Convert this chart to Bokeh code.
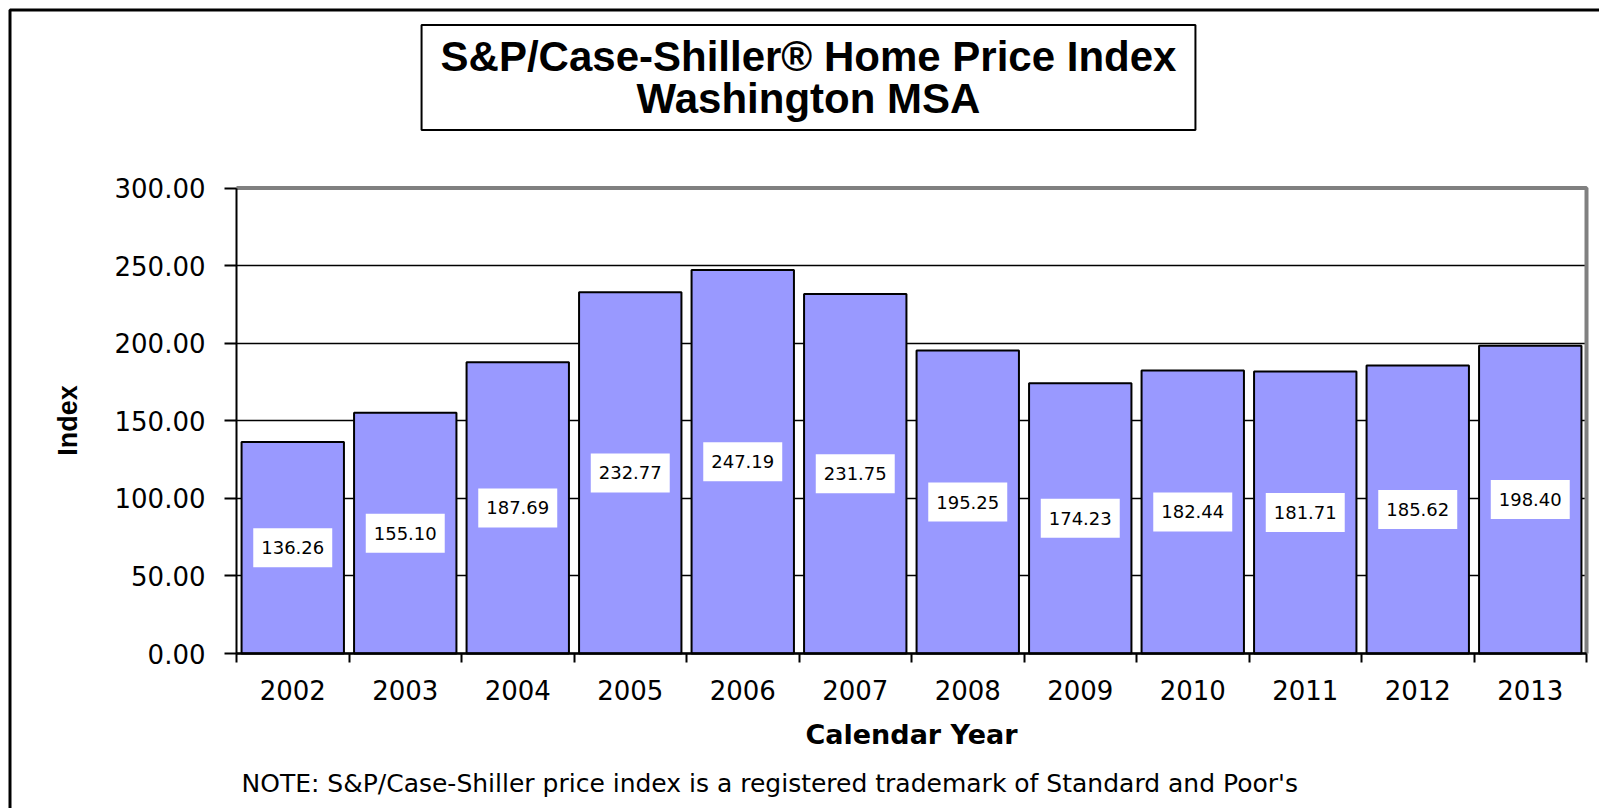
from bokeh.plotting import figure
from bokeh.models import (ColumnDataSource, Range1d, FixedTicker, NumeralTickFormatter,
                          Label, BoxAnnotation)
from bokeh.embed import file_html
from bokeh.resources import INLINE
from bokeh.core.properties import value

# ---- data ----
years = ["2002", "2003", "2004", "2005", "2006", "2007",
         "2008", "2009", "2010", "2011", "2012", "2013"]
index_values = [136.26, 155.10, 187.69, 232.77, 247.19, 231.75,
                195.25, 174.23, 182.44, 181.71, 185.62, 198.40]
y_ticks = [0, 50, 100, 150, 200, 250, 300]
title_text = "S&P/Case-Shiller\u00ae Home Price Index\nWashington MSA"
x_title = "Calendar Year"
y_title = "Index"
note_text = "NOTE:  S&P/Case-Shiller price index is a registered trademark of Standard and Poor's"

# ---- layout (pixels on the page) ----
W, H = 1599, 808
PLOT_LEFT, PLOT_RIGHT = 236, 1586      # pixel columns of x = 0 and x = n
PLOT_TOP, PLOT_BOTTOM = 187.5, 653     # pixel rows of y = max and y = 0

n = len(years)
y_max = y_ticks[-1]
x_centers = [i + 0.5 for i in range(n)]

# the frame fills the whole canvas; axes sit at fixed locations inside it
xs = (PLOT_RIGHT - PLOT_LEFT) / n
ys = (PLOT_BOTTOM - PLOT_TOP) / y_max
x_range = Range1d(-PLOT_LEFT / xs, n + (W - PLOT_RIGHT) / xs)
y_range = Range1d(-(H - PLOT_BOTTOM) / ys, y_max + PLOT_TOP / ys)

source = ColumnDataSource(dict(
    x=x_centers,
    top=index_values,
    mid=[v / 2 for v in index_values],
    label=[f"{v:.2f}" for v in index_values],
))

p = figure(width=W, height=H, output_backend="svg", toolbar_location=None,
           x_range=x_range, y_range=y_range, title=None,
           min_border=0, min_border_left=0, min_border_right=0,
           min_border_top=0, min_border_bottom=0)
p.background_fill_color = "white"
p.border_fill_color = "white"
p.outline_line_color = None

# grid
p.xgrid.visible = False
yg = p.ygrid[0]
yg.grid_line_color = "black"
yg.grid_line_width = 1.5
if "cross_bounds" in yg.properties():
    yg.cross_bounds = (0, n)
else:
    yg.visible = False
    p.segment(x0=[0] * (len(y_ticks) - 1), x1=[n] * (len(y_ticks) - 1),
              y0=y_ticks[1:], y1=y_ticks[1:], line_color="black",
              line_width=1.5, level="underlay")

# bars
p.vbar(x="x", top="top", bottom=0, width=0.91, source=source,
       fill_color="#9999FF", line_color="black", line_width=2)

# plot-area border (top and right, grey)
p.line(x=[0, n, n], y=[y_max, y_max, 0], line_color="#808080", line_width=4)

# value labels
p.text(x="x", y="mid", text="label", source=source,
       text_align="center", text_baseline="middle",
       text_font=value("DejaVu Sans"), text_font_size="18px", text_color="black",
       background_fill_color="white",
       padding=dict(left=8, right=8, top=13, bottom=13))

# y axis
yax = p.yaxis[0]
yax.fixed_location = 0
yax.bounds = (y_ticks[0], y_max)
yax.ticker = FixedTicker(ticks=y_ticks)
yax.formatter = NumeralTickFormatter(format="0.00")
yax.axis_line_color = "black"
yax.axis_line_width = 2
yax.major_tick_out = 12
yax.major_tick_in = 0
yax.major_tick_line_width = 2
yax.minor_tick_line_color = None
yax.major_label_standoff = 19
yax.major_label_text_font = "DejaVu Sans"
yax.major_label_text_font_size = "26px"
yax.major_label_text_color = "black"

# x axis
xax = p.xaxis[0]
xax.fixed_location = 0
xax.bounds = (0, n)
xax.ticker = FixedTicker(ticks=x_centers, minor_ticks=list(range(n + 1)))
xax.major_label_overrides = {x: y for x, y in zip(x_centers, years)}
xax.axis_line_color = "black"
xax.axis_line_width = 2.5
xax.major_tick_line_color = None
xax.major_tick_out = 9
xax.major_tick_in = 0
xax.minor_tick_line_color = "black"
xax.minor_tick_line_width = 2
xax.minor_tick_out = 9
xax.minor_tick_in = 0
xax.major_label_standoff = 17
xax.major_label_text_font = "DejaVu Sans"
xax.major_label_text_font_size = "26px"
xax.major_label_text_color = "black"

# axis titles
p.add_layout(Label(x=911, y=H - 734, x_units="screen", y_units="screen",
                   text=x_title, text_align="center", text_baseline="middle",
                   text_font="DejaVu Sans", text_font_style="bold",
                   text_font_size="27px", text_color="black"))
p.add_layout(Label(x=67, y=H - 420, x_units="screen", y_units="screen",
                   text=y_title, angle=90, angle_units="deg",
                   text_align="center", text_baseline="middle",
                   text_font="Liberation Sans", text_font_style="bold",
                   text_font_size="27px", text_color="black"))

# title box
p.add_layout(Label(x=808, y=H - 77, x_units="screen", y_units="screen",
                   text=title_text, text_align="center", text_baseline="middle",
                   text_font="Liberation Sans", text_font_style="bold",
                   text_font_size="42px", text_line_height=0.89, text_color="black",
                   background_fill_color="white", border_line_color="black",
                   border_line_width=2,
                   padding=dict(left=19, right=19, top=8, bottom=8)))

# note
p.add_layout(Label(x=241, y=H - 783, x_units="screen", y_units="screen",
                   text=note_text, text_align="left", text_baseline="middle",
                   text_font="DejaVu Sans", text_font_size="25px", text_color="black"))

# outer chart border (left and top edges visible)
p.add_layout(BoxAnnotation(left=9.5, right=4000, top=9.5, bottom=4000,
                           left_units="canvas", right_units="canvas",
                           top_units="canvas", bottom_units="canvas",
                           fill_color=None, fill_alpha=0,
                           line_color="black", line_alpha=1, line_width=3))

open("out.html", "w").write(file_html(p, INLINE))
